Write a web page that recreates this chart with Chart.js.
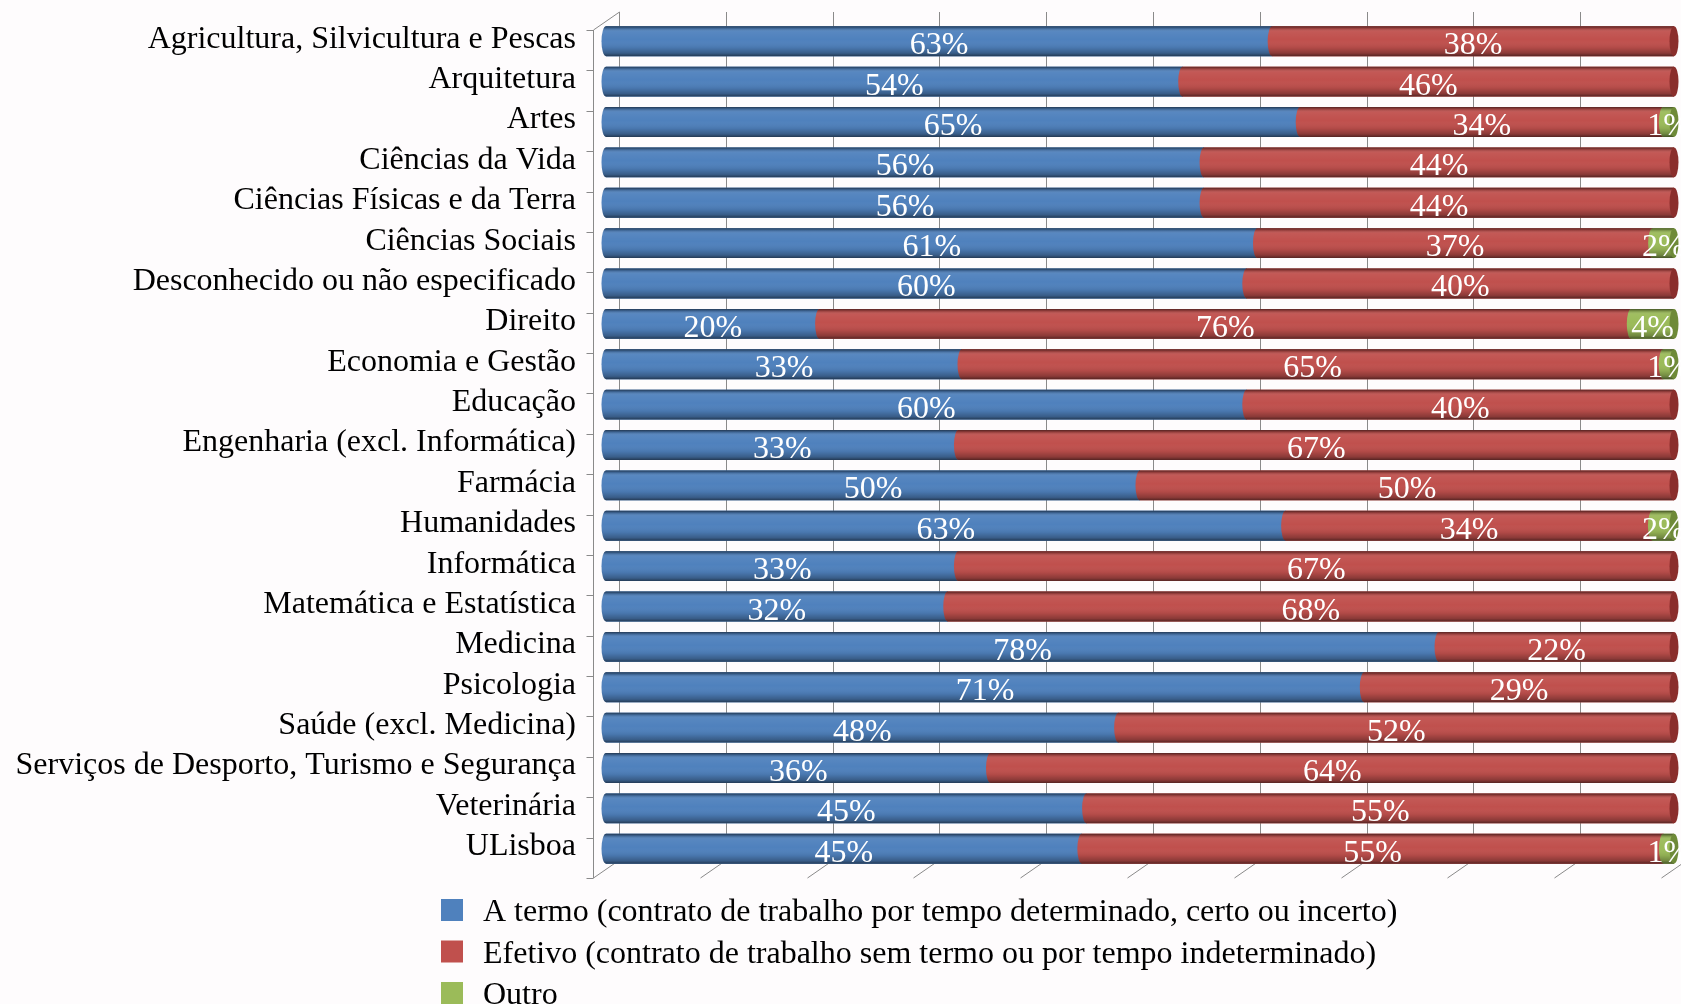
<!DOCTYPE html>
<html><head><meta charset="utf-8">
<script src="https://cdn.jsdelivr.net/npm/chart.js@4.4.1/dist/chart.umd.min.js"></script>
<style>html,body{margin:0;padding:0;background:#fefcfd;} canvas{display:block;}</style>
</head><body>
<canvas id="c" width="1681" height="1004"></canvas>
<script>
const categories = [
  'Agricultura, Silvicultura e Pescas', 'Arquitetura', 'Artes', 'Ciências da Vida',
  'Ciências Físicas e da Terra', 'Ciências Sociais', 'Desconhecido ou não especificado',
  'Direito', 'Economia e Gestão', 'Educação', 'Engenharia (excl. Informática)', 'Farmácia',
  'Humanidades', 'Informática', 'Matemática e Estatística', 'Medicina', 'Psicologia',
  'Saúde (excl. Medicina)', 'Serviços de Desporto, Turismo e Segurança', 'Veterinária', 'ULisboa'
];
const aTermo  = [63, 54, 65, 56, 56, 61, 60, 20, 33, 60, 33, 50, 63, 33, 32, 78, 71, 48, 36, 45, 45];
const efetivo = [38, 46, 34, 44, 44, 37, 40, 76, 65, 40, 67, 50, 34, 67, 68, 22, 29, 52, 64, 55, 55];
const outro   = [ 0,  0,  1,  0,  0,  2,  0,  4,  1,  0,  0,  0,  2,  0,  0,  0,  0,  0,  0,  0,  1];
const seriesNames = [
  'A termo (contrato de trabalho por tempo determinado, certo ou incerto)',
  'Efetivo (contrato de trabalho sem termo ou por tempo indeterminado)',
  'Outro'
];
const seriesColors = ['#4F81BD', '#C0504D', '#9BBB59'];
const capColors = ['#2F5785', '#8A2E2C', '#6E8A38'];

const raw = [aTermo, efetivo, outro];
const totals = categories.map((_, i) => raw.reduce((s, arr) => s + arr[i], 0));
const shares = raw.map(arr => arr.map((v, i) => v / totals[i] * 100));

const FONT = "'Liberation Serif', 'Times New Roman', serif";
Chart.defaults.font.family = FONT;

function shade(ctx, yc, h) {
  const g = ctx.createLinearGradient(0, yc - h / 2, 0, yc + h / 2);
  g.addColorStop(0.00, 'rgba(0,0,0,0.55)');
  g.addColorStop(0.07, 'rgba(0,0,0,0.22)');
  g.addColorStop(0.18, 'rgba(255,255,255,0.05)');
  g.addColorStop(0.45, 'rgba(255,255,255,0.0)');
  g.addColorStop(0.72, 'rgba(0,0,0,0.08)');
  g.addColorStop(0.90, 'rgba(0,0,0,0.28)');
  g.addColorStop(1.00, 'rgba(0,0,0,0.55)');
  return g;
}

const bgPlugin = {
  id: 'bg',
  beforeDraw(chart) {
    const c = chart.ctx;
    c.save(); c.fillStyle = '#fefcfd'; c.fillRect(0, 0, chart.width, chart.height); c.restore();
  }
};

const framePlugin = {
  id: 'frame3d',
  beforeDatasetsDraw(chart) {
    const c = chart.ctx, xs = chart.scales.x, ys = chart.scales.y;
    const dx = 13, dy = 9;
    const top = ys.top, bottom = ys.bottom;
    c.save();
    c.strokeStyle = '#8a8a8a';
    c.lineWidth = 1;
    for (let v = 0; v <= 100; v += 10) {
      const gx = Math.round(xs.getPixelForValue(v) + dx) + 0.5;
      c.beginPath(); c.moveTo(gx, top - dy); c.lineTo(gx, bottom - dy); c.stroke();
      c.beginPath(); c.moveTo(gx - 2 * dx, bottom + dy); c.lineTo(gx, bottom - dy); c.stroke();
    }
    const fx = Math.round(xs.getPixelForValue(0) - dx) + 0.5;
    c.beginPath(); c.moveTo(fx, top + dy); c.lineTo(fx, bottom + dy); c.stroke();
    c.beginPath(); c.moveTo(fx, top + dy); c.lineTo(fx + 2 * dx, top - dy); c.stroke();
    const n = categories.length;
    for (let i = 0; i <= n; i++) {
      const b = Math.round(top + i * (bottom - top) / n + dy) + 0.5;
      c.beginPath(); c.moveTo(fx - 7, b); c.lineTo(fx, b); c.stroke();
    }
    c.restore();
  }
};

const barPlugin = {
  id: 'cyl',
  afterDatasetsDraw(chart) {
    const c = chart.ctx;
    const n = categories.length;
    const r = 4.5;
    c.save();
    c.beginPath(); c.rect(0, 0, chart.width, chart.height); c.clip();
    const allSegs = [];
    for (let i = 0; i < n; i++) {
      const segs = [];
      chart.data.datasets.forEach((ds, k) => {
        if (raw[k][i] > 0) segs.push({ k, el: chart.getDatasetMeta(k).data[i], v: raw[k][i] });
      });
      segs.forEach((s, j) => {
        const el = s.el, h = el.height, yc = el.y;
        const x0 = Math.min(el.base, el.x), x1 = Math.max(el.base, el.x);
        c.beginPath();
        c.moveTo(x1, yc - h / 2);
        c.lineTo(x0, yc - h / 2);
        c.ellipse(x0, yc, r, h / 2, 0, -Math.PI / 2, Math.PI / 2, true);
        c.lineTo(x1, yc + h / 2);
        c.closePath();
        c.fillStyle = seriesColors[s.k]; c.fill();
        c.fillStyle = shade(c, yc, h); c.fill();
        if (j === segs.length - 1) {
          c.beginPath();
          c.ellipse(x1, yc, r, h / 2, 0, 0, Math.PI * 2);
          c.fillStyle = capColors[s.k]; c.fill();
        }
        allSegs.push({ x: (x0 + x1) / 2, y: yc, v: s.v });
      });
    }
    c.fillStyle = '#ffffff';
    c.font = '32px ' + FONT;
    c.textAlign = 'center';
    c.textBaseline = 'alphabetic';
    allSegs.forEach(s => c.fillText(s.v + '%', s.x, s.y + 13));
    c.restore();
  }
};

const legendPlugin = {
  id: 'legendCustom',
  afterDraw(chart) {
    const c = chart.ctx;
    const rows = [910, 951.5, 993];
    c.save();
    c.font = '32px ' + FONT;
    c.textAlign = 'left';
    c.textBaseline = 'alphabetic';
    seriesNames.forEach((name, k) => {
      const cy = rows[k];
      c.fillStyle = seriesColors[k];
      c.fillRect(441, cy - 11, 22, 22);
      c.fillStyle = '#000';
      c.fillText(name, 483, cy + 11);
    });
    c.restore();
  }
};

new Chart(document.getElementById('c'), {
  type: 'bar',
  data: {
    labels: categories,
    datasets: shares.map((d, k) => ({
      label: seriesNames[k],
      data: d,
      backgroundColor: seriesColors[k],
      borderWidth: 0,
      barPercentage: 0.74,
      categoryPercentage: 1
    }))
  },
  options: {
    indexAxis: 'y',
    responsive: false,
    animation: false,
    layout: { padding: { top: 21, bottom: 135, right: 7, left: 0 } },
    scales: {
      x: { stacked: true, min: 0, max: 100, display: false },
      y: {
        stacked: true,
        grid: { display: false, drawTicks: true, tickLength: 30 },
        border: { display: false },
        ticks: { font: { family: FONT, size: 32 }, color: '#000', padding: 0, labelOffset: -2, autoSkip: false },
        afterFit: s => { s.width = 606; s.paddingTop = 0; s.paddingBottom = 0; }
      }
    },
    plugins: { legend: { display: false }, tooltip: { enabled: false } }
  },
  plugins: [bgPlugin, framePlugin, barPlugin, legendPlugin]
});
</script>
</body></html>
